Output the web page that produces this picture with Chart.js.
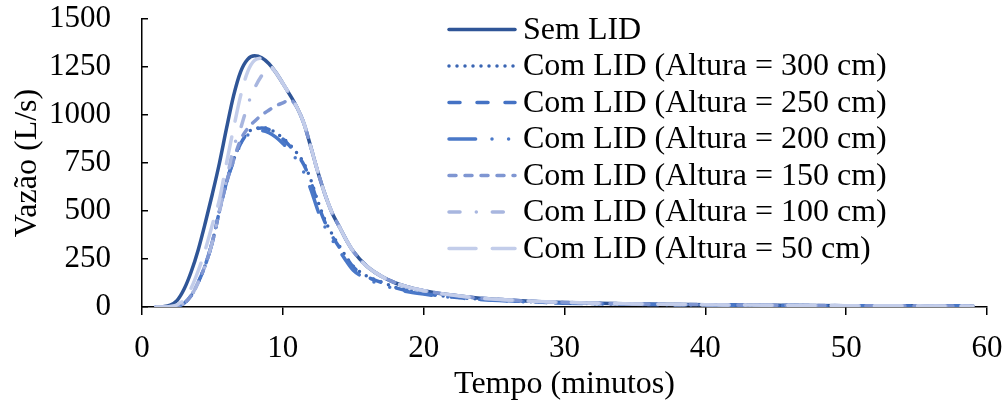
<!DOCTYPE html>
<html>
<head>
<meta charset="utf-8">
<script src="https://cdn.jsdelivr.net/npm/chart.js"></script>
<style>
	html, body { margin: 0; padding: 0; background: #fff; }
	#wrap { width: 1008px; height: 410px; }
</style>
</head>
<body>
<div id="wrap"><canvas id="chart"></canvas></div>
<script>
// tempo (minutos)
const times = [1, 1.5, 2, 2.5, 3, 3.5, 4, 4.5, 5, 5.5, 6, 6.5, 7, 7.5, 8, 8.5, 9, 9.5, 10, 10.5, 11, 11.5, 12, 12.5, 13, 13.5, 14, 14.5, 15, 16, 17, 18, 19, 20, 22, 24, 26, 28, 30, 35, 40, 45, 50, 55, 59];

// vazao (L/s)
const semLid = [0, 2, 10, 35, 95, 185, 300, 440, 590, 750, 930, 1100, 1225, 1290, 1308, 1298, 1268, 1222, 1165, 1105, 1040, 955, 830, 700, 585, 490, 420, 350, 290, 210, 160, 125, 102, 85, 62, 46, 37, 29, 24, 16, 12, 9, 7, 6, 5];
const alt300 = [0, 0, 0, 3, 20, 60, 130, 220, 340, 500, 650, 765, 852, 908, 928, 935, 928, 908, 880, 845, 802, 748, 660, 548, 452, 380, 320, 262, 212, 160, 130, 102, 83, 71, 53, 41, 33, 26, 21, 14, 11, 8, 6.5, 5.5, 5];
const alt250 = [0, 0, 0, 3, 20, 60, 130, 220, 340, 500, 650, 765, 850, 905, 925, 932, 925, 905, 875, 838, 795, 740, 650, 535, 440, 370, 312, 258, 208, 157, 128, 100, 82, 70, 52, 40, 32, 26, 21, 14, 11, 8, 6.5, 5.5, 5];
const alt200 = [0, 0, 0, 3, 20, 60, 130, 220, 340, 500, 650, 760, 845, 895, 915, 918, 908, 885, 852, 812, 765, 700, 610, 500, 415, 350, 295, 240, 192, 145, 118, 94, 78, 67, 50, 39, 31, 25, 20, 14, 10.5, 8, 6.5, 5.5, 5];
const alt150 = [0, 0, 0, 3, 20, 60, 130, 220, 340, 500, 650, 765, 870, 930, 968, 1000, 1025, 1048, 1063, 1080, 1040, 955, 830, 700, 585, 490, 420, 350, 290, 210, 160, 125, 102, 85, 62, 46, 37, 29, 24, 16, 12, 9, 7, 6, 5];
const alt100 = [0, 0, 0, 3, 20, 60, 130, 220, 340, 500, 660, 830, 930, 1050, 1140, 1205, 1250, 1222, 1165, 1105, 1040, 955, 830, 700, 585, 490, 420, 350, 290, 210, 160, 125, 102, 85, 62, 46, 37, 29, 24, 16, 12, 9, 7, 6, 5];
const alt50 = [0, 0, 3, 12, 40, 100, 190, 300, 430, 560, 750, 930, 1100, 1225, 1285, 1296, 1268, 1222, 1165, 1105, 1040, 955, 830, 700, 585, 490, 420, 350, 290, 210, 160, 125, 102, 85, 62, 46, 37, 29, 24, 16, 12, 9, 7, 6, 5];

const xTicks = [0, 10, 20, 30, 40, 50, 60];
const yTicks = [0, 250, 500, 750, 1000, 1250, 1500];

const toPoints = (vals) => vals.map((v, i) => ({ x: times[i], y: v }));

const series = [
	{ label: "Sem LID", data: semLid, color: "#2F5597", dash: [] },
	{ label: "Com LID (Altura = 300 cm)", data: alt300, color: "#3A65B3", dash: [0, 8] },
	{ label: "Com LID (Altura = 250 cm)", data: alt250, color: "#4472C4", dash: [11, 17] },
	{ label: "Com LID (Altura = 200 cm)", data: alt200, color: "#4A78C8", dash: [26.6, 16.4, 0, 16.6, 0, 16] },
	{ label: "Com LID (Altura = 150 cm)", data: alt150, color: "#7F96D2", dash: [7, 9] },
	{ label: "Com LID (Altura = 100 cm)", data: alt100, color: "#A8B6DF", dash: [11, 16.3, 0, 16] },
	{ label: "Com LID (Altura = 50 cm)", data: alt50, color: "#C3CDEA", dash: [27, 16.3] },
];

const FONT = '"Liberation Serif", "Times New Roman", serif';
Chart.defaults.font.family = FONT;
Chart.defaults.font.size = 31;
Chart.defaults.color = "#000";

// legend drawn inside the plot, like the original
const insideLegend = {
	id: "insideLegend",
	afterDraw(chart) {
		const ctx = chart.ctx;
		ctx.save();
		ctx.font = "32px " + FONT;
		ctx.textBaseline = "middle";
		chart.data.datasets.forEach((ds, i) => {
			const y = 29.5 + i * 36.5;
			ctx.beginPath();
			ctx.setLineDash(ds.borderDash);
			ctx.lineCap = "round";
			ctx.strokeStyle = ds.borderColor;
			ctx.lineWidth = ds.borderWidth;
			ctx.moveTo(449, y);
			ctx.lineTo(515, y);
			ctx.stroke();
			ctx.setLineDash([]);
			ctx.fillStyle = "#000";
			ctx.fillText(ds.label, 523, y + 1);
		});
		ctx.restore();
	},
};

new Chart(document.getElementById("chart"), {
	type: "line",
	data: {
		datasets: series.map((s, i) => ({
			label: s.label,
			data: toPoints(s.data),
			borderColor: s.color,
			backgroundColor: s.color,
			borderWidth: 3.5,
			borderDash: s.dash,
			borderCapStyle: "round",
			pointRadius: 0,
			fill: false,
			cubicInterpolationMode: "monotone",
			order: series.length - i,
		})),
	},
	options: {
		responsive: true,
		maintainAspectRatio: false,
		animation: false,
		layout: { padding: { top: 19, right: 21, left: 0, bottom: 0 } },
		plugins: {
			legend: { display: false },
			tooltip: { enabled: false },
		},
		scales: {
			x: {
				type: "linear",
				min: 0,
				max: 60,
				afterBuildTicks: (scale) => {
					scale.ticks = xTicks.map((v) => ({ value: v }));
				},
				afterFit: (scale) => {
					scale.height = 103;
					scale.paddingLeft = 0;
					scale.paddingRight = 0;
				},
				ticks: { padding: 15, maxRotation: 0, callback: (v) => String(v) },
				grid: { drawOnChartArea: false, tickLength: 8, color: "#000", lineWidth: 1.5 },
				border: { display: true, color: "#000", width: 1.5 },
				title: { display: true, text: "Tempo (minutos)", font: { size: 32 }, padding: { top: 0, bottom: 6 } },
			},
			y: {
				min: 0,
				max: 1500,
				afterBuildTicks: (scale) => {
					scale.ticks = yTicks.map((v) => ({ value: v }));
				},
				afterFit: (scale) => {
					scale.width = 142;
					scale.paddingTop = 0;
					scale.paddingBottom = 0;
				},
				ticks: { padding: 37, callback: (v) => String(v) },
				grid: { drawOnChartArea: false, tickLength: -6, color: "#000", lineWidth: 1.5 },
				border: { display: true, color: "#000", width: 1.5 },
				title: { display: true, text: "Vazão (L/s)", font: { size: 32 }, padding: { top: 8, bottom: 0 } },
			},
		},
	},
	plugins: [insideLegend],
});
</script>
</body>
</html>
